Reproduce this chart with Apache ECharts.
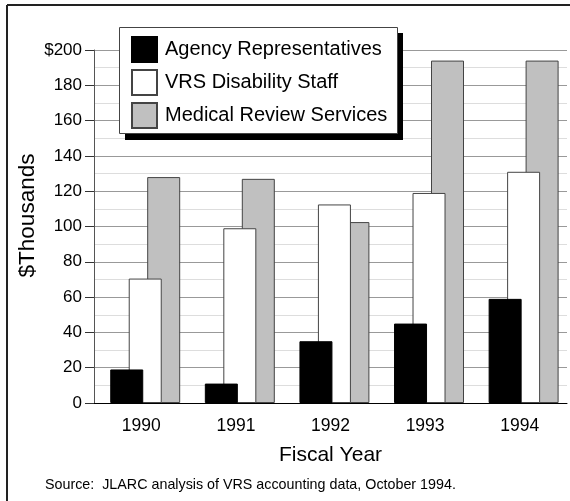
<!DOCTYPE html>
<html>
<head>
<meta charset="utf-8">
<script src="https://cdn.jsdelivr.net/npm/echarts@6/dist/echarts.min.js"></script>
<style>
  html, body { margin: 0; padding: 0; background: #fff; }
  #chart { width: 570px; height: 501px; }
</style>
</head>
<body>
<div id="chart"></div>
<script>
const years = ['1990', '1991', '1992', '1993', '1994'];
const agencyReps = [19, 11, 35, 45, 59];
const vrsStaff = [70.5, 99, 112.5, 119, 131];
const medicalReview = [128, 127, 102.5, 194, 194];
const yTicks = [0, 20, 40, 60, 80, 100, 120, 140, 160, 180, 200];

const chart = echarts.init(document.getElementById('chart'), null, { renderer: 'canvas' });
const font = 'Liberation Sans, Arial, sans-serif';

// spacer so the overlapping bar group sits a bit right of the category centre
const spacer = years.map(() => null);

const option = {
  animation: false,
  backgroundColor: '#fff',
  textStyle: { fontFamily: font, color: '#000' },
  grid: { left: 94, right: 3, top: 50, bottom: 98, outerBoundsMode: 'none' },
  legend: {
    orient: 'vertical',
    left: 131,
    top: 36,
    padding: 0,
    z: 10,
    itemWidth: 25,
    itemHeight: 25,
    itemGap: 6,
    icon: 'rect',
    textStyle: { fontSize: 20, lineHeight: 25, fontFamily: font, color: '#000', padding: [0, 0, 0, 3] },
    data: ['Agency Representatives', 'VRS Disability Staff', 'Medical Review Services']
  },
  xAxis: [
    {
      type: 'category',
      data: years,
      name: 'Fiscal Year',
      nameLocation: 'middle',
      nameGap: 42,
      nameMoveOverlap: false,
      nameTextStyle: { fontSize: 21, fontFamily: font, color: '#000' },
      axisLine: { lineStyle: { color: '#000', width: 1 } },
      axisTick: { length: 6, lineStyle: { color: '#000' } },
      axisLabel: { fontSize: 17.5, margin: 14, color: '#000', fontFamily: font },
      splitLine: { show: false }
    },
    {
      type: 'category',
      data: years,
      position: 'bottom',
      axisLine: { show: false },
      axisTick: { inside: true, length: 6, lineStyle: { color: '#000' } },
      axisLabel: { show: false },
      splitLine: { show: false }
    }
  ],
  yAxis: {
    type: 'value',
    min: yTicks[0],
    max: yTicks[yTicks.length - 1],
    interval: 20,
    name: '$Thousands',
    nameLocation: 'middle',
    nameGap: 55,
    nameMoveOverlap: false,
    nameTextStyle: { fontSize: 22.5, fontFamily: font, color: '#000', padding: [0, 0, 0, 22] },
    axisLine: { show: true, lineStyle: { color: '#555', width: 1 } },
    axisTick: { show: true, length: 9, lineStyle: { color: '#333' } },
    axisLabel: {
      fontSize: 17,
      margin: 12,
      color: '#000',
      fontFamily: font,
      formatter: v => (v === 200 ? '$200' : String(v))
    },
    splitLine: { show: true, lineStyle: { color: '#999', width: 1 } },
    minorTick: { show: false, splitNumber: 2 },
    minorSplitLine: { show: true, lineStyle: { color: '#ddd', width: 1 } }
  },
  graphic: [
    // outer frame (only top and left visible in the original)
    { type: 'line', shape: { x1: 7, y1: 5, x2: 570, y2: 5 }, style: { stroke: '#222', lineWidth: 2 }, z: 20 },
    { type: 'line', shape: { x1: 7, y1: 5, x2: 7, y2: 501 }, style: { stroke: '#222', lineWidth: 2 }, z: 20 },
    // legend box with shadow
    { type: 'rect', shape: { x: 125, y: 33, width: 278, height: 107 }, style: { fill: '#000' }, z: 5 },
    { type: 'rect', shape: { x: 119.5, y: 27.5, width: 278, height: 106 }, style: { fill: '#fff', stroke: '#444', lineWidth: 1 }, z: 6 },
    {
      type: 'text', left: 45, top: 478, z: 20,
      style: { text: 'Source:  JLARC analysis of VRS accounting data, October 1994.', fontSize: 14.3, fontFamily: font, fill: '#000' }
    }
  ],
  series: [
    {
      name: 'spacer',
      type: 'bar',
      data: spacer,
      barWidth: 14,
      barGap: '-44%',
      silent: true,
      itemStyle: { color: 'transparent' }
    },
    {
      name: 'Agency Representatives',
      type: 'bar',
      data: agencyReps,
      barWidth: 33,
      barGap: '-44%',
      z: 4,
      itemStyle: { color: '#000', borderColor: '#000', borderWidth: 1 }
    },
    {
      name: 'VRS Disability Staff',
      type: 'bar',
      data: vrsStaff,
      barWidth: 33,
      barGap: '-44%',
      z: 3,
      itemStyle: { color: '#fff', borderColor: '#444', borderWidth: 1 }
    },
    {
      name: 'Medical Review Services',
      type: 'bar',
      data: medicalReview,
      barWidth: 33,
      barGap: '-44%',
      z: 2,
      itemStyle: { color: '#c0c0c0', borderColor: '#444', borderWidth: 1 }
    }
  ]
};

chart.setOption(option);
</script>
</body>
</html>
